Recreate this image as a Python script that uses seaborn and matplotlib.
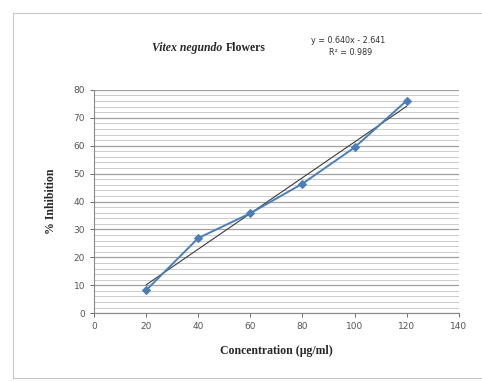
import numpy as np
import pandas as pd
import matplotlib
matplotlib.use('Agg')
import matplotlib.pyplot as plt
import seaborn as sns
from matplotlib.patches import Rectangle

sns.set_style('white')

# data
conc = [20, 40, 60, 80, 100, 120]
inhibition = [8.2, 26.9, 35.8, 46.4, 59.4, 76.2]
x_ticks = [0, 20, 40, 60, 80, 100, 120, 140]
y_ticks = [0, 10, 20, 30, 40, 50, 60, 70, 80]
eq_text = 'y = 0.640x - 2.641'
r2_text = 'R\u00b2 = 0.989'

df = pd.DataFrame({'conc': conc, 'inhibition': inhibition})

fig = plt.figure(figsize=(4.82, 3.81), dpi=100)
ax = fig.add_axes([0.195, 0.178, 0.757, 0.586])

# outer frame like the excel chart area
fig.patches.append(Rectangle((13 / 482, 3 / 381), 1.0, 365 / 381,
                             transform=fig.transFigure, fill=False,
                             edgecolor='#c8c8c8', lw=0.8))

# minor + major horizontal grid
for yv in np.arange(0, 81, 2):
    ax.axhline(yv, color='#c4c4c4' if yv % 10 else '#a0a0a0',
               lw=0.6 if yv % 10 else 0.9, zorder=0)

sns.lineplot(data=df, x='conc', y='inhibition', ax=ax, color='#4a7ebb',
             lw=1.4, marker='D', markersize=4.5, markeredgecolor='#4a7ebb',
             zorder=3)

# linear trendline
slope, icpt = np.polyfit(conc, inhibition, 1)
xs = np.array([min(conc), max(conc)])
ax.plot(xs, slope * xs + icpt, color='#3a3a3a', lw=0.8, zorder=2)

ax.set_xlim(0, 140)
ax.set_ylim(0, 80)
ax.set_xticks(x_ticks)
ax.set_yticks(y_ticks)
ax.tick_params(axis='both', labelsize=6.5, colors='#555555', length=3,
               direction='out', left=True, bottom=True, width=0.6)
for s in ['top', 'right']:
    ax.spines[s].set_visible(False)
for s in ['left', 'bottom']:
    ax.spines[s].set_color('#888888')
    ax.spines[s].set_linewidth(0.8)

ax.set_xlabel('Concentration (\u00b5g/ml)', fontsize=8.5, fontweight='bold',
              family='Liberation Serif', labelpad=10)
ax.set_ylabel('% Inhibition', fontsize=8.5, fontweight='bold',
              family='Liberation Serif', labelpad=12)

# title: italic species name + plain word
fig.text(0.462, 0.873, 'Vitex negundo', ha='right', va='center',
         fontsize=8.5, fontweight='bold', fontstyle='italic',
         family='Liberation Serif')
fig.text(0.468, 0.873, 'Flowers', ha='left', va='center',
         fontsize=8.5, fontweight='bold', family='Liberation Serif')

fig.text(0.722, 0.895, eq_text, ha='center', va='center', fontsize=5.8,
         color='#333333')
fig.text(0.728, 0.862, r2_text, ha='center', va='center', fontsize=5.8,
         color='#333333')

fig.savefig('out.png', dpi=100)
